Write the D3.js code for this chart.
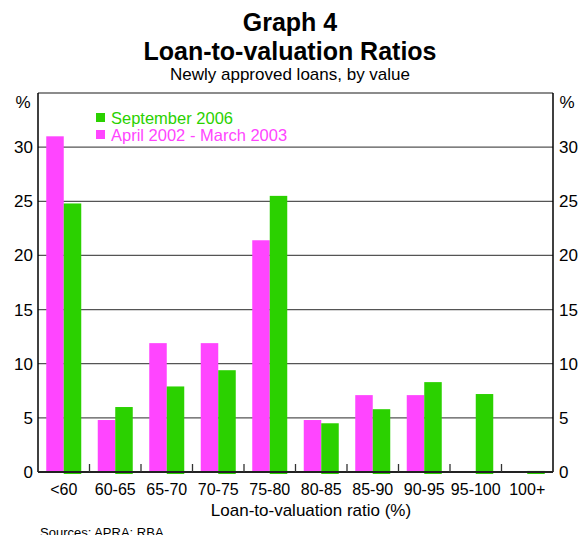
<!DOCTYPE html>
<html>
<head>
<meta charset="utf-8">
<script src="https://cdn.jsdelivr.net/npm/d3@7"></script>
<style>
	body { margin: 0; background: #fff; }
	text { font-family: "Liberation Sans", Arial, sans-serif; }
</style>
</head>
<body>
<script>
// values
var categories = ["<60", "60-65", "65-70", "70-75", "75-80", "80-85", "85-90", "90-95", "95-100", "100+"];
var april2002 = [31.0, 4.8, 11.9, 11.9, 21.4, 4.8, 7.1, 7.1, 0, 0];
var sept2006 = [24.8, 6.0, 7.9, 9.4, 25.5, 4.5, 5.8, 8.3, 7.2, 0.1];
var yTicks = [0, 5, 10, 15, 20, 25, 30];
var seriesNames = ["September 2006", "April 2002 - March 2003"];

function drawChart(){
	var width = 580, height = 535;
	var pLeft = 38, pRight = 553, pTop = 93, pBottom = 472;
	var pink = "#ff45ff", green = "#2bd100";

	var svg = d3.select("body").append("svg")
		.attr("width", width)
		.attr("height", height);

	var x = d3.scaleBand().domain(categories).range([pLeft, pRight]);
	var y = d3.scaleLinear().domain([0, 35]).range([pBottom, pTop]);
	var barW = 17.5;

	//titles
	svg.append("text").attr("x", 290).attr("y", 31).attr("text-anchor", "middle")
		.style("font-size", "25px").style("font-weight", "bold").text("Graph 4");
	svg.append("text").attr("x", 290).attr("y", 60).attr("text-anchor", "middle")
		.style("font-size", "25px").style("font-weight", "bold").text("Loan-to-valuation Ratios");
	svg.append("text").attr("x", 290).attr("y", 80).attr("text-anchor", "middle")
		.style("font-size", "17px").text("Newly approved loans, by value");

	//gridlines
	svg.append("g").selectAll("line")
		.data(yTicks.filter(function(d){ return d > 0; }))
		.enter().append("line")
			.attr("x1", pLeft).attr("x2", pRight)
			.attr("y1", function(d){ return y(d); })
			.attr("y2", function(d){ return y(d); })
			.attr("stroke", "#555").attr("stroke-width", 1.3);

	//bars
	var g = svg.append("g");
	g.selectAll(".pink").data(april2002).enter().append("rect")
		.attr("x", function(d, i){ return x(categories[i]) + x.bandwidth()/2 - barW; })
		.attr("width", barW)
		.attr("y", function(d){ return y(d); })
		.attr("height", function(d){ return y(0) - y(d); })
		.attr("fill", pink);
	g.selectAll(".green").data(sept2006).enter().append("rect")
		.attr("x", function(d, i){ return x(categories[i]) + x.bandwidth()/2; })
		.attr("width", barW)
		.attr("y", function(d){ return y(d); })
		.attr("height", function(d){ return y(0) - y(d) + 2; })
		.attr("fill", green);

	//frame
	svg.append("line").attr("x1", pLeft).attr("x2", pRight).attr("y1", pTop).attr("y2", pTop)
		.attr("stroke", "#666").attr("stroke-width", 1.5);
	svg.append("line").attr("x1", pLeft).attr("x2", pLeft).attr("y1", pTop).attr("y2", pBottom)
		.attr("stroke", "#000").attr("stroke-width", 1.5);
	svg.append("line").attr("x1", pRight).attr("x2", pRight).attr("y1", pTop).attr("y2", pBottom)
		.attr("stroke", "#000").attr("stroke-width", 1.5);
	svg.append("line").attr("x1", pLeft).attr("x2", pRight).attr("y1", pBottom).attr("y2", pBottom)
		.attr("stroke", "#222").attr("stroke-width", 2);

	//category boundary ticks
	svg.append("g").selectAll("line")
		.data(categories.slice(1))
		.enter().append("line")
			.attr("x1", function(d){ return x(d); })
			.attr("x2", function(d){ return x(d); })
			.attr("y1", pBottom).attr("y2", pBottom - 8)
			.attr("stroke", "#333").attr("stroke-width", 1.3);

	//y labels on both sides
	yTicks.forEach(function(t){
		svg.append("text").attr("x", pLeft - 5).attr("y", y(t) + 6).attr("text-anchor", "end")
			.style("font-size", "17px").text(t);
		svg.append("text").attr("x", pRight + 6).attr("y", y(t) + 6).attr("text-anchor", "start")
			.style("font-size", "17px").text(t);
	});
	svg.append("text").attr("x", 23).attr("y", 108).attr("text-anchor", "middle")
		.style("font-size", "17px").text("%");
	svg.append("text").attr("x", 567).attr("y", 108).attr("text-anchor", "middle")
		.style("font-size", "17px").text("%");

	//x labels
	svg.append("g").selectAll("text")
		.data(categories).enter().append("text")
			.attr("x", function(d){ return x(d) + x.bandwidth()/2; })
			.attr("y", 495)
			.attr("text-anchor", "middle")
			.style("font-size", "16px")
			.text(function(d){ return d; });
	svg.append("text").attr("x", 311).attr("y", 516).attr("text-anchor", "middle")
		.style("font-size", "17px").text("Loan-to-valuation ratio (%)");
	svg.append("text").attr("x", 40).attr("y", 537)
		.style("font-size", "13px").text("Sources: APRA; RBA");

	//legend
	var legColors = [green, pink];
	seriesNames.forEach(function(name, i){
		var ly = 124 + i * 17;
		svg.append("rect").attr("x", 96).attr("y", ly - 11).attr("width", 9).attr("height", 9)
			.attr("fill", legColors[i]);
		svg.append("text").attr("x", 111).attr("y", ly)
			.style("font-size", "16.5px").attr("fill", legColors[i]).text(name);
	});
}

drawChart();
</script>
</body>
</html>
